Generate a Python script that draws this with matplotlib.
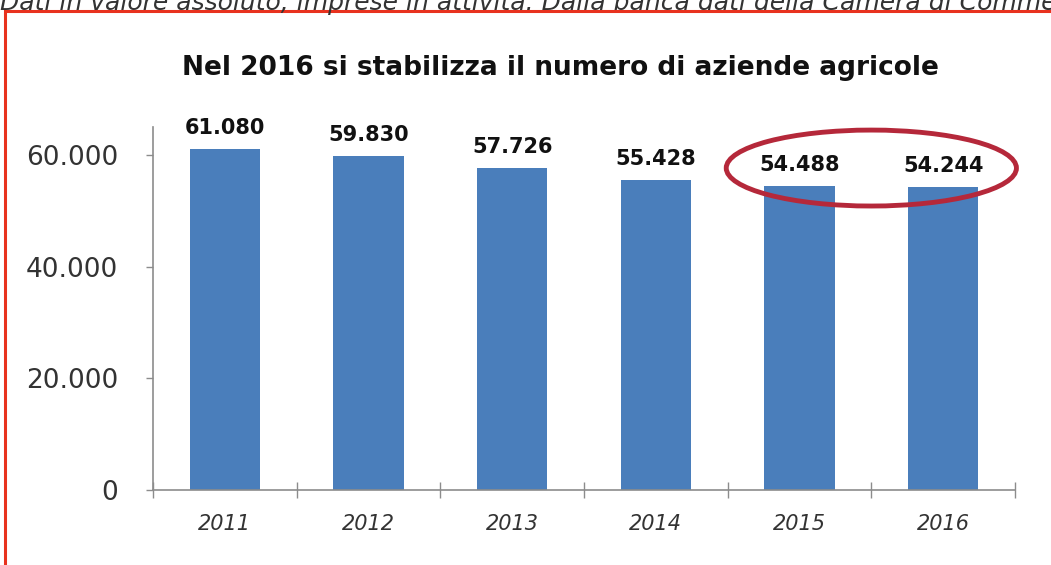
import matplotlib
matplotlib.use('Agg')
import matplotlib.pyplot as plt
from matplotlib.patches import Ellipse, Rectangle
from matplotlib.ticker import FixedLocator

years = ['2011', '2012', '2013', '2014', '2015', '2016']
aziende = [61080, 59830, 57726, 55428, 54488, 54244]
yticks = [0, 20000, 40000, 60000]
ytick_labels = ['0', '20.000', '40.000', '60.000']

title = 'Nel 2016 si stabilizza il numero di aziende agricole'
header = 'Dati in valore assoluto, imprese in attività. Dalla banca dati della Camera di Commercio'

BAR_COLOR = '#4A7EBB'
AXIS_GREY = '#8C8C8C'

fig = plt.figure(figsize=(10.51, 5.65), dpi=100)
fig.patch.set_facecolor('white')

# red frame that runs off the right and bottom edge
fig.patches.append(Rectangle((5 / 1051, -0.05), 1.1, 1 - 11 / 565 + 0.05,
                             transform=fig.transFigure, fill=False,
                             edgecolor='#E8321E', linewidth=2.2))

# header line, cut at the top of the picture as in the source
fig.text(0.0, 1 - 2 / 565, header, ha='left', va='center',
         fontsize=18, style='italic', color='#333333')

ax = fig.add_axes([153 / 1051, 1 - 490 / 565, (1015 - 153) / 1051, (490 - 127) / 565])
x = list(range(len(years)))
ax.bar(x, aziende, width=0.49, color=BAR_COLOR, zorder=2)

for xi, v in zip(x, aziende):
    lab = f'{v:,}'.replace(',', '.')
    ax.annotate(lab, (xi, v), xytext=(0, 8), textcoords='offset points',
                ha='center', va='bottom', fontsize=15, fontweight='bold',
                color='#111111')

ax.set_xlim(-0.5, len(years) - 0.5)
ax.set_ylim(0, 65000)

ax.set_yticks(yticks)
ax.set_yticklabels(ytick_labels, fontsize=19, color='#333333')
ax.tick_params(axis='y', direction='out', length=5, width=1,
               color=AXIS_GREY, pad=20)

ax.set_xticks(x)
ax.set_xticklabels(years, fontsize=15, style='italic', color='#333333')
ax.tick_params(axis='x', which='major', length=0, pad=17)
ax.xaxis.set_minor_locator(FixedLocator([i - 0.5 for i in range(len(years) + 1)]))
ax.tick_params(axis='x', which='minor', direction='inout', length=12,
               width=1, color=AXIS_GREY)

for s in ['top', 'right']:
    ax.spines[s].set_visible(False)
for s in ['left', 'bottom']:
    ax.spines[s].set_color(AXIS_GREY)
    ax.spines[s].set_linewidth(1.2)

fig.text((169 + 952) / 2 / 1051, 1 - 68 / 565, title, ha='center',
         va='center', fontsize=19, fontweight='bold', color='#111111')

# highlight around the last two values
ax.add_patch(Ellipse((4.5, 57650), 2.02, 13600, fill=False,
                     edgecolor='#B5283A', linewidth=3.5, zorder=5,
                     clip_on=False))

fig.savefig('out.png', dpi=100)
